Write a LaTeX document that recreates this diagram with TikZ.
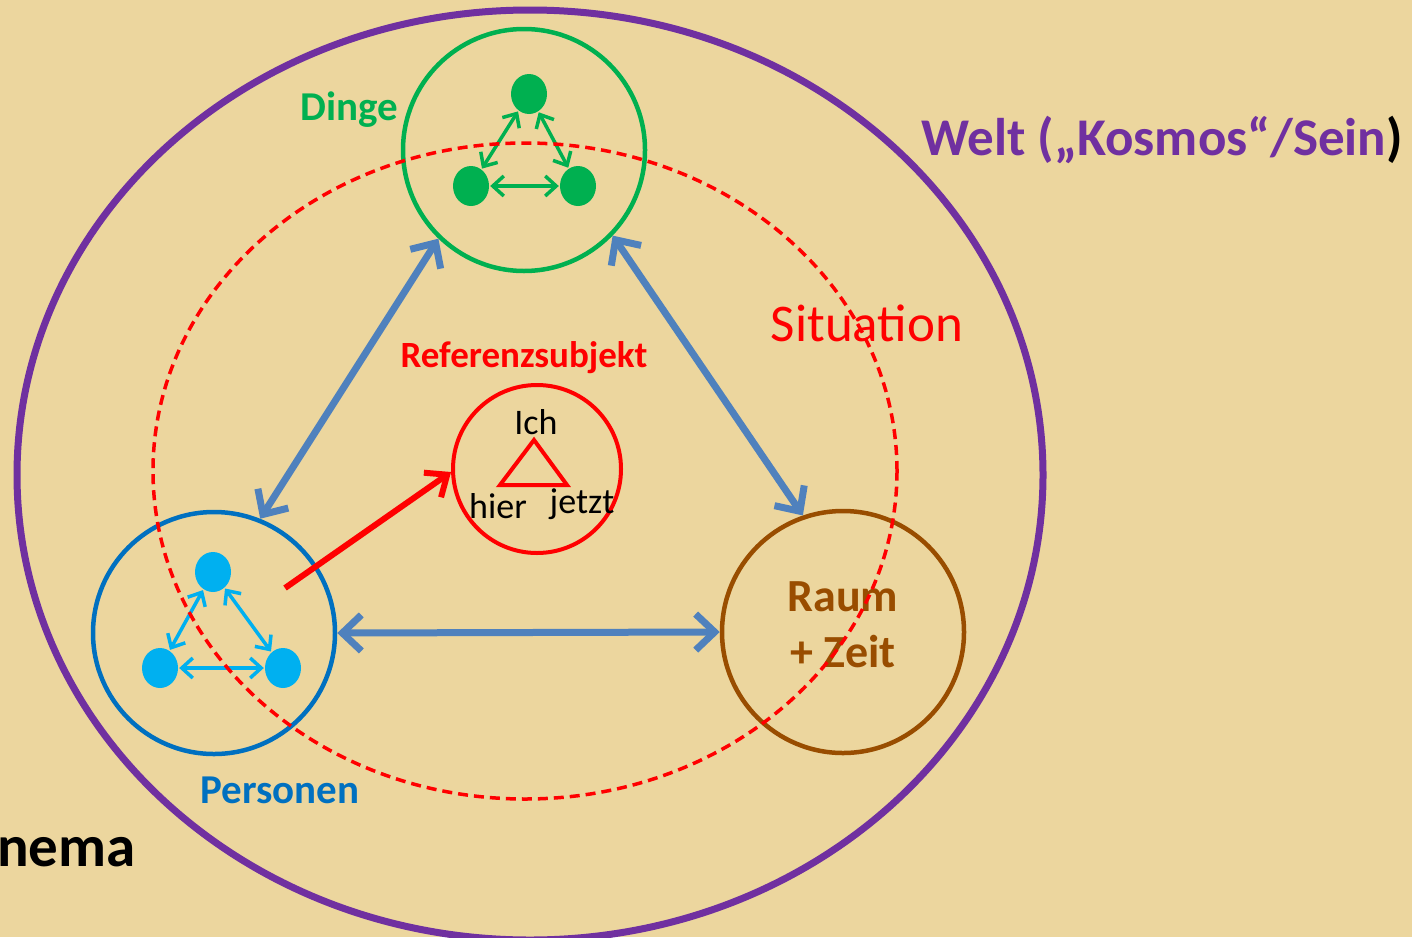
\documentclass[tikz,border=0pt]{standalone}
\usepackage{fontspec}
\setmainfont{Carlito}
\usetikzlibrary{arrows.meta,shapes.geometric,calc}
\definecolor{bgc}{RGB}{236,214,158}
\definecolor{weltc}{RGB}{112,48,160}
\definecolor{dingec}{RGB}{0,176,80}
\definecolor{persc}{RGB}{0,112,192}
\definecolor{dotc}{RGB}{0,176,240}
\definecolor{raumc}{RGB}{153,77,0}
\definecolor{arrc}{RGB}{79,129,189}
\definecolor{redc}{RGB}{255,0,0}
\begin{document}
\begin{tikzpicture}[x=1pt,y=-1pt,
  ring/.style={circle,draw,line width=4.5pt,minimum size=242pt,inner sep=0pt},
  dot/.style={ellipse,fill,minimum width=36pt,minimum height=40pt,inner sep=0pt},
  smallarr/.style={line width=3.5pt,shorten <=1pt,shorten >=1pt,arrows={Straight Barb[length=11pt,width=20pt]-Straight Barb[length=11pt,width=20pt]}},
  bigarr/.style={draw=arrc,line width=7pt,arrows={Straight Barb[length=19pt,width=36pt]-Straight Barb[length=19pt,width=36pt]}},
  lbl/.style={inner sep=0pt}
]
\useasboundingbox (0,0) rectangle (1412,937);
\fill[bgc] (0,0) rectangle (1412,937);

% world ellipse
\node (welt) [ellipse,draw=weltc,line width=7pt,minimum width=1026pt,minimum height=930pt,inner sep=0pt] at (530,475) {};

% circles
\node (dinge) [ring,draw=dingec] at (524,150) {};
\node (pers) [ring,draw=persc] at (214,633) {};
\node (raum) [ring,draw=raumc] at (843,632) {};
\node (ich) [circle,draw=redc,line width=4pt,minimum size=168pt,inner sep=0pt] at (537,469) {};

% green dots
\node (gt) [dot,fill=dingec] at (529,94) {};
\node (gl) [dot,fill=dingec] at (471,186) {};
\node (gr) [dot,fill=dingec] at (578,186) {};
\draw[smallarr,draw=dingec] (gt) -- (gl);
\draw[smallarr,draw=dingec] (gt) -- (gr);
\draw[smallarr,draw=dingec] (gl) -- (gr);

% cyan dots
\node (pt) [dot,fill=dotc] at (213,572) {};
\node (pl) [dot,fill=dotc] at (160,668) {};
\node (pr) [dot,fill=dotc] at (283,668) {};
\draw[smallarr,draw=dotc] (pt) -- (pl);
\draw[smallarr,draw=dotc] (pt) -- (pr);
\draw[smallarr,draw=dotc] (pl) -- (pr);

% big blue arrows
\draw[bigarr] (dinge.226) -- (pers.68);
\draw[bigarr] (dinge.316) -- (raum.109);
\draw[bigarr] (pers.0) -- (raum.180);

% red arrow
\coordinate (rs) at (285,588);
\draw[draw=redc,line width=6pt,-{Straight Barb[length=18pt,width=30pt]}] (rs) -- (ich.182);

% triangle
\draw[redc,line width=4pt,line join=miter] ($(ich)+(-3,-29)$) -- ($(ich)+(30,16)$) -- ($(ich)+(-37,16)$) -- cycle;

% labels
\node (tich) [lbl,font=\fontsize{36}{40}\selectfont] at (536,422) {Ich};
\node (thier) [lbl,font=\fontsize{36}{40}\selectfont] at (498,506) {hier};
\node (tjetzt) [lbl,font=\fontsize{36}{40}\selectfont] at (582,504) {jetzt};
\node (tref) [lbl,text=redc,font=\bfseries\fontsize{37}{40}\selectfont] at (524,358) {Referenzsubjekt};
\node (tdinge) [lbl,text=dingec,font=\bfseries\fontsize{41}{44}\selectfont] at (349,110) {Dinge};
\node (tpers) [lbl,text=persc,font=\bfseries\fontsize{41}{44}\selectfont] at (280,790) {Personen};
\node (traum) [lbl,text=raumc,font=\bfseries\fontsize{46}{56}\selectfont,align=center] at (843,625) {Raum\\+ Zeit};
\node (tsit) [lbl,text=redc,font=\fontsize{53}{56}\selectfont] at (867,323) {Situation};
\node (twelt) [lbl,font=\bfseries\fontsize{53}{56}\selectfont] at (1162,140) {\textcolor{weltc}{Welt („Kosmos“/Sein})};
\node (tschema) [lbl,anchor=west,font=\bfseries\fontsize{59}{62}\selectfont] at (-3,852) {nema};

% situation ellipse
\node (sit) [ellipse,draw=redc,line width=3.5pt,dash pattern=on 10pt off 6pt,minimum width=744pt,minimum height=656pt,inner sep=0pt] at (525,471) {};
\end{tikzpicture}
\end{document}
